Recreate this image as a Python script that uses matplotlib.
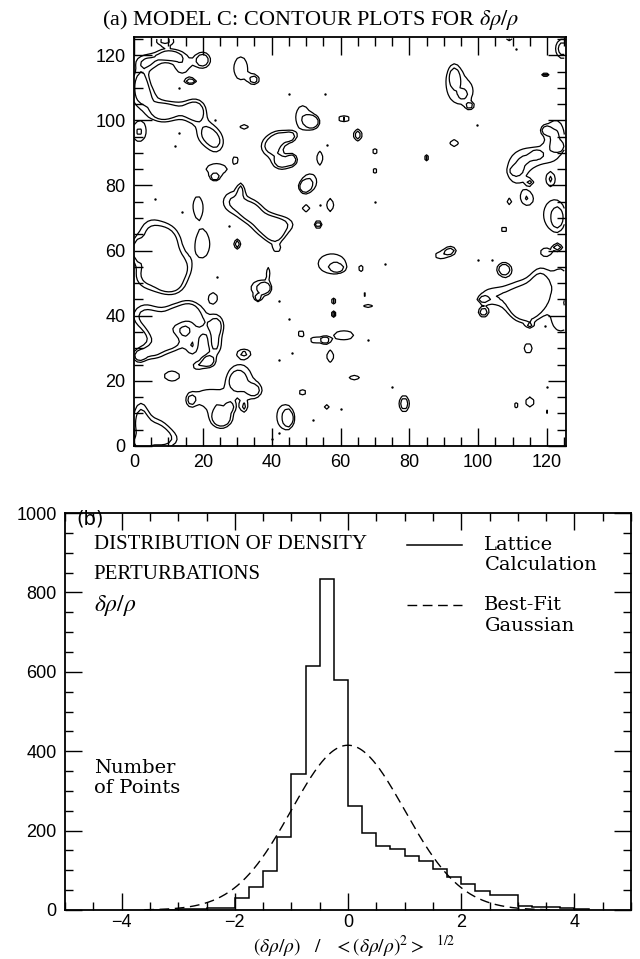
import numpy as np
import matplotlib
matplotlib.use("Agg")
import matplotlib.pyplot as plt
from matplotlib.ticker import MultipleLocator

plt.rcParams['font.family'] = ['Liberation Serif', 'DejaVu Serif']
plt.rcParams['mathtext.fontset'] = 'stix'

# --- panel (a): features ---
# centre (x, y), half-widths of the outer contour (rx, ry) and peak value
# (peak > 1.5 gives the inner, second contour)
BLOB_X = [9, 4, 10, 14, 2, 20, 31, 35, 16.5, 3,
          8, 13, 18, 21, 24, 1.5, 32, 49, 52, 40,
          43, 43, 46, 45.5, 61, 65, 70, 70, 54, 24,
          23.5, 29.5, 51, 49.5, 18.5, 29, 34, 38, 43, 41,
          31, 50, 57, 53.5, 5, 10, 8, 13, 4, 10,
          1, 20, 30, 41.5, 57.5, 59, 66, 39, 36.5, 38,
          36, 23, 3, 7, 12, 16, 11, 5, 19, 24,
          23.5, 1.5, 17, 21.5, 18.5, 32, 58, 58, 64.5, 67.5,
          68, 61, 48.5, 52.5, 55.5, 57, 11, 30, 31, 35,
          21, 25, 25.5, 16.5, 2, 6, 9, 2, 43.5, 45,
          49, 32, 28, 64, 56, 78.5, 95, 93, 95.5, 97.5,
          93, 85, 109, 119.5, 124.5, 122.5, 119.5, 123.5, 116, 117,
          111, 111, 115, 121, 109, 114, 122, 123, 107.5, 123,
          119.5, 89, 92, 107.5, 113, 117, 112, 118, 114, 104,
          101.5, 101.5, 115, 124, 124, 93.5, 114.5, 115, 111, 120]
BLOB_Y = [124.5, 118, 120, 117, 112, 118.5, 116, 112.5, 112, 107,
          102.5, 103, 103, 96, 93, 96.5, 98, 101, 99.5, 92,
          95, 87, 88, 95, 100.5, 95.5, 90.5, 84.5, 88.5, 85,
          82.5, 88, 81, 79.5, 74, 75, 72, 68, 68, 64.5,
          79, 73, 74, 68, 65, 63, 57, 54, 52, 49,
          60, 62, 62, 60.5, 56, 54.7, 54.5, 53.5, 48.5, 48.5,
          45.5, 45.5, 40, 36, 40, 42, 32, 29, 38, 37,
          31, 27.5, 30.5, 26, 24.5, 28.5, 44.5, 40.5, 46.5, 46.5,
          43, 34, 34.5, 32.5, 32.5, 27.5, 21.5, 20, 20.5, 17,
          15, 9, 8.5, 14, 8, 5, 2, 1, 9, 8.5,
          16.5, 12, 12, 21, 12, 13, 109, 114, 108, 104.5,
          93, 88.5, 125.5, 114, 122, 95, 97, 92, 89, 89.5,
          84, 84.5, 81, 82, 75, 76, 71, 70, 66.5, 61,
          59.5, 58.5, 60, 54.3, 47, 45, 43, 51, 41, 46,
          45, 41, 37, 38, 50, 36, 30, 13.5, 12.5, 10.5]
BLOB_RX = [2.5, 3, 3, 2, 2, 2.2, 2, 1.2, 1.5, 3,
           3, 3, 2.5, 2.5, 1.5, 2, 1.2, 2, 1.8, 3,
           2, 2.5, 1.2, 0.8, 1.8, 1.2, 0.9, 0.9, 0.9, 3,
           1.2, 0.6, 2, 1.3, 1.2, 3, 3, 3, 3, 2,
           0.6, 1, 1, 1, 3, 3, 4, 3, 3, 3,
           1.5, 2, 1, 0.8, 4, 1.3, 0.5, 0.4, 2.5, 1.2,
           0.8, 1.2, 3, 3, 3, 2, 3, 3, 2, 2,
           1.5, 1.5, 1.2, 1.8, 1, 1.2, 0.8, 0.8, 0.9, 0.7,
           1.3, 2.8, 0.8, 1.2, 1.0, 1.0, 2.2, 1.2, 3, 1.5,
           3, 2.5, 1.8, 0.8, 2, 3, 3, 2, 2, 1,
           1.5, 0.6, 0.6, 1.5, 0.8, 1.5, 3.5, 1, 0.8, 0.7,
           1.2, 0.7, 1, 1, 2, 2.5, 1, 1, 3, 1,
           2.2, 1, 0.6, 0.8, 0.6, 1.2, 3, 1, 1, 1,
           1, 1.5, 1.5, 2, 3, 2.5, 2, 1.5, 2, 3,
           1, 1.3, 0.6, 2, 2, 0.4, 1.2, 1.2, 0.8, 0.8]
BLOB_RY = [1.5, 2, 1.5, 2.5, 3, 2.4, 3.5, 1.2, 0.9, 3,
           2.5, 2, 3, 3, 2, 3, 0.8, 3.5, 1.8, 3,
           1.5, 2, 1.5, 0.8, 0.8, 1.8, 0.8, 0.7, 2.0, 1.5,
           0.8, 1.0, 2.5, 1.5, 2.5, 3, 3, 3, 2, 2,
           1.2, 1, 2, 1.2, 4, 4, 4, 4, 3, 2,
           3, 4, 1.5, 0.7, 3, 0.8, 0.6, 1.2, 2.2, 1.2,
           0.8, 1.5, 3, 4, 3, 2, 2.5, 2, 3, 3,
           2.5, 1.5, 2, 1.8, 0.8, 0.8, 0.8, 0.8, 0.5, 0.5,
           0.6, 1.4, 1.0, 0.8, 0.8, 1.8, 1.5, 1.5, 4, 1.5,
           2, 2.5, 1.8, 1.2, 5, 3, 2, 1.5, 3.5, 2,
           0.6, 1, 0.8, 0.8, 0.8, 2.5, 4, 2, 0.8, 0.6,
           1, 0.8, 1, 0.6, 3, 5, 1, 1, 2.2, 0.8,
           3, 0.8, 0.5, 1.2, 0.8, 1.5, 4.5, 2, 0.7, 0.8,
           0.8, 1, 1.2, 2, 3, 3, 2, 2.5, 2, 2,
           0.7, 1.3, 0.5, 2.5, 4, 1.0, 1.5, 1.5, 0.6, 0.5]
BLOB_PEAK = [1.8, 1.6, 2.0, 1.4, 1.8, 2.3, 1.3, 1.8, 2.2, 1.7,
             2.0, 1.4, 1.9, 1.6, 1.3, 1.6, 1.3, 1.4, 2.3, 2.0,
             1.5, 2.1, 2.0, 1.3, 2.0, 2.2, 1.3, 1.3, 1.3, 1.4,
             2.2, 1.3, 1.6, 2.4, 1.3, 1.6, 2.0, 1.8, 1.5, 1.6,
             1.3, 1.3, 1.3, 2.4, 1.6, 1.8, 2.0, 2.0, 1.6, 1.8,
             2.0, 1.3, 2.2, 1.3, 1.4, 2.0, 1.3, 1.3, 1.4, 2.0,
             2.2, 1.3, 1.6, 2.0, 1.9, 1.5, 1.8, 1.7, 1.5, 1.9,
             1.6, 1.8, 1.3, 2.4, 1.3, 1.3, 2.0, 2.6, 1.3, 1.3,
             1.3, 1.3, 1.3, 1.3, 2.0, 1.3, 1.3, 1.3, 1.3, 1.5,
             1.3, 1.4, 2.0, 1.3, 1.8, 1.6, 1.4, 1.8, 1.4, 2.0,
             2.6, 1.3, 1.3, 1.3, 1.3, 2.2, 1.3, 1.3, 2.0, 1.6,
             1.3, 2.2, 2.0, 2.0, 2.0, 1.6, 1.6, 2.2, 1.3, 2.0,
             1.3, 1.8, 1.3, 1.3, 1.3, 1.3, 1.3, 1.8, 1.3, 2.2,
             1.3, 1.3, 1.8, 2.4, 1.3, 1.5, 1.3, 1.3, 1.3, 1.3,
             2.0, 2.0, 1.3, 1.3, 1.3, 1.3, 1.3, 1.3, 2.2, 1.3]
# isolated single-cell peaks (dots)
DOT_X = [13, 23.5, 13, 12, 45, 55.5, 6, 14, 56, 54, 70, 73, 24, 42, 45,
         68, 46, 42, 52, 42, 40, 75, 111, 99.5, 100, 104, 119.5, 120, 60, 27.5]
DOT_Y = [110, 100, 96, 92, 108, 108, 76, 72, 92.5, 74, 75, 56, 52, 44.5, 39,
         32.5, 28.5, 26.5, 8, 4, 2, 18, 122, 98.5, 57, 57, 37, 18, 11.5, 67.5]
CONTOUR_LEVELS = [1.0, 1.5]

# --- panel (b): histogram and best-fit gaussian ---
HIST_START = -3.5
HIST_WIDTH = 0.25
COUNTS = [1, 1, 2, 3, 6, 4, 30, 59, 99, 185, 343, 615, 833, 579, 262, 194,
          160, 154, 135, 124, 104, 82, 65, 49, 37, 37, 11, 7, 7, 5, 3]
GAUSS_PEAK = 415
GAUSS_SIGMA = 1.0

W, H = 640, 959
fig = plt.figure(figsize=(W / 100, H / 100), dpi=100)


def style_ticks(ax, major_len, pad):
    ax.tick_params(which='both', direction='in', top=True, right=True,
                   width=1.0, colors='black', labelsize=13, pad=pad)
    ax.tick_params(which='major', length=major_len)
    ax.tick_params(which='minor', length=major_len / 2)
    for lab in ax.get_xticklabels() + ax.get_yticklabels():
        lab.set_fontfamily('Liberation Sans')
    for sp in ax.spines.values():
        sp.set_linewidth(1.3)


# top panel
ax1 = fig.add_axes([134 / W, 1 - 446 / H, (566 - 134) / W, (446 - 37) / H])
grid = np.arange(0, 126, 1.0)
X, Y = np.meshgrid(grid, grid)
field = np.zeros_like(X)
for bx, by, rx, ry, pk in zip(BLOB_X, BLOB_Y, BLOB_RX, BLOB_RY, BLOB_PEAK):
    w = np.sqrt(2 * np.log(pk))
    field += pk * np.exp(-0.5 * (((X - bx) / (rx / w)) ** 2 + ((Y - by) / (ry / w)) ** 2))
ax1.contour(X, Y, field, levels=CONTOUR_LEVELS, colors='black', linewidths=0.9)
ax1.scatter(DOT_X, DOT_Y, s=3, c='black', linewidths=0)
ax1.set_xlim(0, 125.5)
ax1.set_ylim(0, 125.6)
ax1.xaxis.set_major_locator(MultipleLocator(20))
ax1.xaxis.set_minor_locator(MultipleLocator(5))
ax1.yaxis.set_major_locator(MultipleLocator(20))
ax1.yaxis.set_minor_locator(MultipleLocator(5))
style_ticks(ax1, 13, 6)

fig.text(102 / W, 1 - 20 / H, r"(a) MODEL C: CONTOUR PLOTS FOR $\delta\rho/\rho$",
         fontsize=16, va='center', ha='left')

# bottom panel
ax2 = fig.add_axes([65 / W, 1 - 910 / H, 566 / W, (910 - 513) / H])
edges = HIST_START + HIST_WIDTH * np.arange(len(COUNTS) + 1)
ax2.stairs(COUNTS, edges, color='black', linewidth=1.1)
xs = np.linspace(-3.6, 3.6, 400)
ax2.plot(xs, GAUSS_PEAK * np.exp(-0.5 * (xs / GAUSS_SIGMA) ** 2),
         color='black', linewidth=1.0, dashes=(7, 4))
ax2.set_xlim(-5, 5)
ax2.set_ylim(0, 1000)
ax2.xaxis.set_major_locator(MultipleLocator(2))
ax2.xaxis.set_minor_locator(MultipleLocator(0.5))
ax2.yaxis.set_major_locator(MultipleLocator(200))
ax2.yaxis.set_minor_locator(MultipleLocator(50))
style_ticks(ax2, 12, 6)
ax2.tick_params(axis='x', pad=3)

# legend drawn by hand, as in the original
ax2.plot([1.04, 2.01], [920, 920], color='black', linewidth=1.1)
ax2.plot([1.04, 2.01], [768, 768], color='black', linewidth=1.0, dashes=(7, 4))
caps = dict(fontsize=15, va='center', ha='left')
lower = dict(fontsize=14, va='center', ha='left', family='DejaVu Serif')
ax2.text(2.41, 920, "Lattice", **lower)
ax2.text(2.41, 869, "Calculation", **lower)
ax2.text(2.41, 768, "Best-Fit", **lower)
ax2.text(2.41, 715, "Gaussian", **lower)

ax2.text(-4.8, 985, "(b)", fontsize=14, va='center', ha='left', family='DejaVu Sans')
ax2.text(-4.49, 920, "DISTRIBUTION OF DENSITY", **caps)
ax2.text(-4.49, 845, "PERTURBATIONS", **caps)
ax2.text(-4.49, 768, r"$\delta\rho/\rho$", fontsize=17, va='center', ha='left')
ax2.text(-4.49, 357, "Number", **lower)
ax2.text(-4.49, 307, "of Points", **lower)

fig.text(354 / W, 1 - 946 / H,
         r"$(\delta\rho/\rho)\ \ \ /\ \ \ <(\delta\rho/\rho)^2>\ \ ^{1/2}$",
         fontsize=14, ha='center', va='center')

fig.savefig("out.png", dpi=100, facecolor='white')
